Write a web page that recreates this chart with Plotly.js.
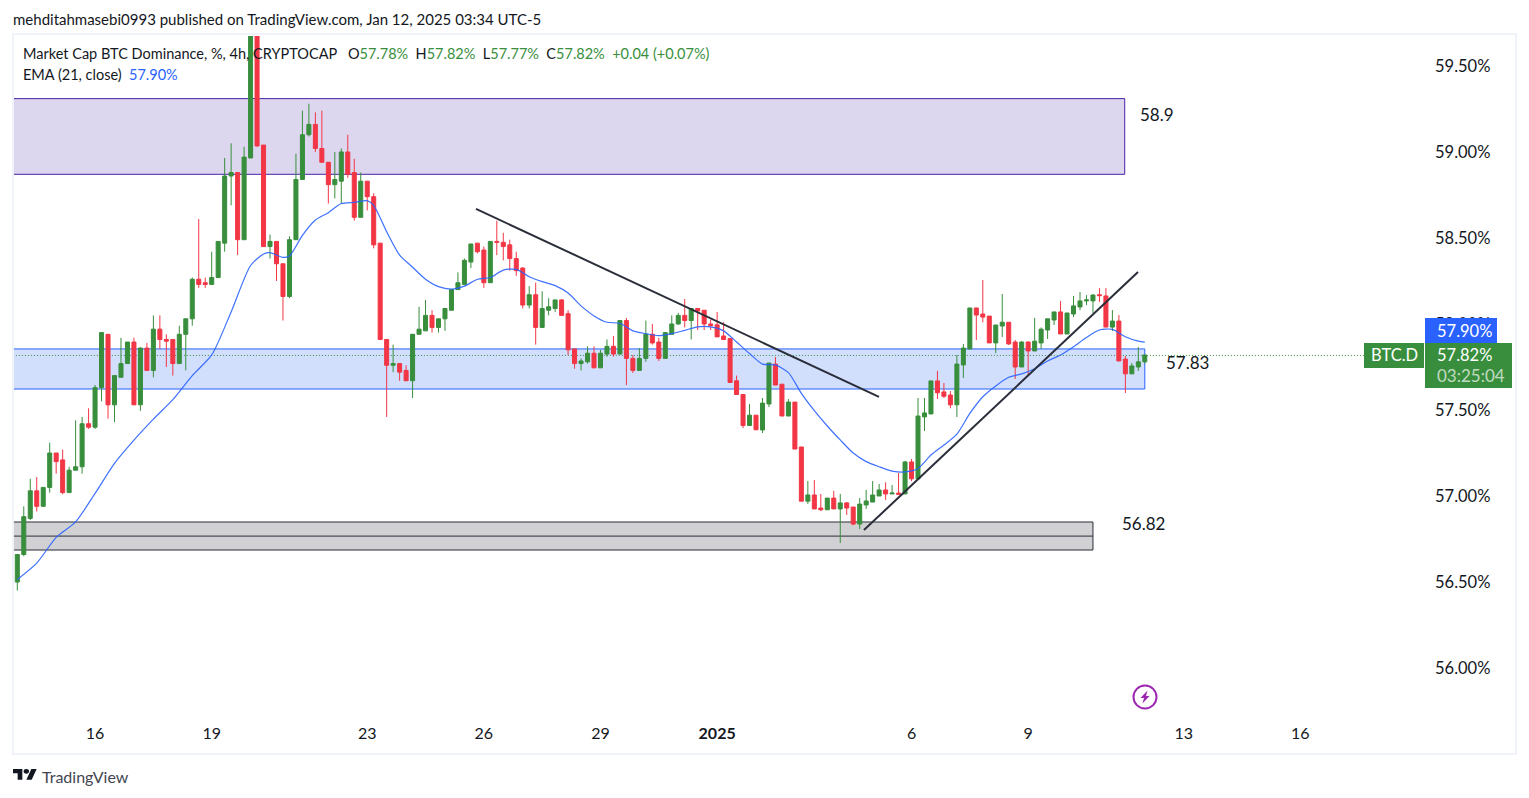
<!DOCTYPE html>
<html>
<head>
<meta charset="utf-8">
<script src="https://cdn.plot.ly/plotly-3.0.1.min.js"></script>
<style>
html,body{margin:0;padding:0;background:#fff;overflow:hidden}
#chart{width:1529px;height:798px}
</style>
</head>
<body>
<div id="chart"></div>
<script>
// 4h candles, index 0 = Dec 14 2024
var opens = [
56.50,56.66,56.87,57.03,56.94,57.05,57.25,57.21,57.02,57.15,
57.17,57.42,57.40,57.63,57.94,57.53,57.69,57.77,57.895,57.53,
57.86,57.73,57.97,57.91,57.91,57.77,57.94,58.03,58.26,58.24,
58.23,58.27,58.47,58.86,58.88,58.49,58.965,59.72,59.04,58.45,
58.48,58.35,58.16,58.49,58.84,59.10,59.16,59.02,58.94,58.81,
58.83,59.00,58.88,58.62,58.83,58.74,58.47,57.91,57.76,57.77,
57.73,57.67,57.94,57.96,58.05,57.98,58.03,58.08,58.20,58.23,
58.36,58.47,58.43,58.24,58.48,58.475,58.46,58.38,58.325,58.11,
58.17,57.98,58.08,58.09,58.14,58.06,57.855,57.77,57.78,57.83,
57.745,57.825,57.87,57.825,58.02,57.80,57.73,57.80,57.94,57.895,
57.80,57.94,58.00,58.05,58.02,58.09,58.08,58.00,57.995,57.93,
57.915,57.67,57.59,57.41,57.47,57.384,57.535,57.767,57.65,57.465,
57.546,57.285,56.97,57.006,56.93,56.92,56.988,56.925,56.96,56.936,
56.837,56.948,56.965,57.00,57.035,57.012,57.017,57.012,57.198,57.10,
57.46,57.477,57.669,57.605,57.587,57.53,57.762,57.855,58.093,58.058,
58.046,57.89,57.988,58.01,57.895,57.75,57.895,57.843,57.89,57.965,
58.023,58.07,57.942,58.058,58.099,58.134,58.134,58.17,58.163,57.982,
58.017,57.796,57.71,57.75,57.78];
var highs = [
56.66,56.94,57.10,57.11,57.05,57.31,57.25,57.27,57.17,57.44,
57.46,57.51,57.645,57.95,57.94,57.70,57.92,57.895,57.92,57.865,
57.89,58.05,58.05,57.94,57.91,57.99,58.03,58.27,58.61,58.27,
58.42,58.48,58.965,59.05,58.88,59.03,59.80,59.80,59.04,58.52,
58.48,58.35,58.51,58.99,59.24,59.28,59.23,59.24,58.94,59.00,
59.02,59.10,58.96,58.88,58.83,58.76,58.47,57.91,57.88,57.77,
57.76,57.94,58.10,58.14,58.08,58.03,58.09,58.20,58.30,58.38,
58.465,58.47,58.45,58.48,58.60,58.53,58.49,58.42,58.33,58.22,
58.24,58.19,58.15,58.14,58.145,58.08,57.855,57.80,57.87,57.87,
57.85,57.91,57.93,58.02,58.035,57.82,57.86,58.02,58.00,57.92,
57.95,58.05,58.064,58.145,58.09,58.09,58.08,58.025,58.07,58.01,
57.915,57.70,57.59,57.535,57.47,57.57,57.773,57.808,57.65,57.564,
57.546,57.285,57.087,57.093,57.012,56.988,57.03,57.012,56.965,56.936,
56.988,57.035,57.087,57.07,57.08,57.064,57.134,57.205,57.215,57.57,
57.57,57.669,57.727,57.657,57.61,57.82,57.884,58.093,58.093,58.256,
58.046,57.994,58.174,58.01,57.907,57.90,57.90,58.035,57.98,58.03,
58.07,58.134,58.064,58.163,58.186,58.168,58.174,58.209,58.209,58.081,
58.052,57.814,57.773,57.866,57.82];
var lows = [
56.45,56.65,56.86,56.91,56.94,57.02,57.13,57.01,57.02,57.15,
57.13,57.39,57.39,57.55,57.45,57.43,57.69,57.77,57.53,57.495,
57.73,57.69,57.855,57.75,57.70,57.77,57.73,57.99,58.21,58.21,
58.23,58.27,58.42,58.69,58.40,58.49,58.965,59.03,58.45,58.38,
58.25,58.02,58.15,58.49,58.84,59.09,59.00,58.94,58.70,58.73,
58.70,58.85,58.60,58.62,58.66,58.44,57.91,57.46,57.72,57.67,
57.67,57.57,57.94,57.96,57.95,57.95,57.96,58.08,58.20,58.23,
58.325,58.41,58.21,58.24,58.40,58.37,58.31,58.28,58.09,58.09,
57.88,57.98,58.05,58.07,58.05,57.82,57.74,57.73,57.77,57.745,
57.745,57.81,57.81,57.825,57.645,57.715,57.73,57.78,57.88,57.785,
57.80,57.94,57.995,57.98,57.91,57.965,57.965,57.965,57.925,57.91,
57.66,57.59,57.395,57.41,57.385,57.366,57.517,57.645,57.465,57.465,
57.273,56.97,56.954,56.925,56.913,56.92,56.925,56.727,56.89,56.83,
56.808,56.925,56.965,57.00,56.977,57.012,57.01,57.012,57.087,57.10,
57.378,57.477,57.564,57.57,57.51,57.459,57.686,57.855,57.907,58.01,
57.89,57.83,57.924,57.878,57.68,57.75,57.703,57.843,57.855,57.913,
57.994,57.942,57.942,58.04,58.08,58.11,58.064,58.128,57.982,57.959,
57.785,57.599,57.71,57.727,57.77];
var closes = [
56.66,56.88,57.03,56.94,57.05,57.25,57.20,57.02,57.15,57.17,
57.42,57.40,57.63,57.95,57.53,57.70,57.77,57.895,57.53,57.86,
57.73,57.97,57.91,57.90,57.77,57.94,58.03,58.26,58.23,58.23,
58.27,58.48,58.86,58.88,58.49,58.97,59.72,59.035,58.45,58.48,
58.35,58.16,58.49,58.84,59.10,59.16,59.02,58.94,58.81,58.84,
59.00,58.87,58.62,58.83,58.74,58.46,57.91,57.76,57.77,57.72,
57.67,57.94,57.97,58.05,57.98,58.03,58.09,58.20,58.24,58.37,
58.465,58.42,58.24,58.48,58.475,58.45,58.38,58.31,58.11,58.17,
57.98,58.09,58.10,58.14,58.05,57.85,57.77,57.785,57.83,57.745,
57.83,57.87,57.825,58.02,57.80,57.73,57.80,57.94,57.89,57.80,
57.95,58.00,58.05,58.02,58.09,58.075,58.00,57.99,57.925,57.91,
57.66,57.59,57.41,57.47,57.385,57.54,57.773,57.645,57.465,57.546,
57.273,56.97,57.006,56.925,56.92,56.988,56.925,56.96,56.93,56.837,
56.953,56.971,57.006,57.035,57.012,57.017,57.01,57.198,57.10,57.465,
57.483,57.669,57.60,57.58,57.53,57.767,57.86,58.093,58.052,58.04,
57.89,57.994,58.01,57.884,57.75,57.895,57.843,57.90,57.97,58.03,
58.07,57.942,58.064,58.105,58.134,58.14,58.168,58.165,57.982,58.017,
57.785,57.71,57.756,57.78,57.82];

// EMA(21) at these candle indexes
var emaIdx = [0,3,6,9,12,15,18,21,24,27,30,33,36,38,39,41,42,44,46,48,50,52,54,55,57,59,61,63,65,67,69,71,73,75,77,79,81,83,85,87,89,91,93,95,97,99,101,103,105,107,109,111,113,115,117,119,121,123,125,127,129,131,133,135,137,139,141,143,145,147,149,151,153,155,157,159,161,163,165,167,169,171,173,174];
var emaVals = [56.515,56.61,56.76,56.85,57.015,57.19,57.325,57.447,57.56,57.70,57.82,58.07,58.34,58.407,58.415,58.387,58.395,58.515,58.604,58.647,58.70,58.707,58.717,58.69,58.536,58.40,58.33,58.26,58.217,58.203,58.22,58.26,58.27,58.313,58.317,58.275,58.246,58.223,58.18,58.105,58.047,58.01,58.004,57.96,57.944,57.932,57.944,57.963,57.983,57.983,57.96,57.895,57.828,57.767,57.762,57.717,57.597,57.496,57.407,57.326,57.25,57.20,57.17,57.145,57.14,57.16,57.238,57.296,57.36,57.48,57.577,57.64,57.69,57.71,57.74,57.785,57.82,57.868,57.922,57.965,57.969,57.926,57.90,57.895];

var xTickVals = [12,30,54,72,90,108,138,156,180,198];
var xTickText = ['16','19','23','26','29','<b>2025</b>','6','9','13','16'];
var yTickVals = [56,56.5,57,57.5,58,58.5,59,59.5];
var yTickText = ['56.00%','56.50%','57.00%','57.50%','58.00%','58.50%','59.00%','59.50%'];

var GREEN = '#388e3c', RED = '#f23645', BLUE = '#2962ff', INK = '#131722';
var FONT = 'Lato, "Noto Sans", sans-serif';

// plot box in window pixels, used only for the furniture around the chart
var L = 14, R = 1420, T = 36, B = 720;
function px(x){ return (x - L) / (R - L); }
function py(y){ return (B - y) / (B - T); }
var xIdx = opens.map(function(d,i){ return i; });

var candles = {
  type: 'candlestick', x: xIdx, open: opens, high: highs, low: lows, close: closes,
  increasing: {line: {color: GREEN, width: 1}, fillcolor: GREEN},
  decreasing: {line: {color: RED, width: 1}, fillcolor: RED},
  hoverinfo: 'skip', showlegend: false
};
var ema = {
  type: 'scatter', mode: 'lines', x: emaIdx, y: emaVals,
  line: {color: BLUE, width: 1.2, shape: 'spline', smoothing: 0.7}, opacity: 0.9, hoverinfo: 'skip', showlegend: false
};

function zone(x1, y0, y1, fill, stroke){
  return {type:'rect', layer:'below', xref:'x', yref:'y', x0:-3, x1:x1, y0:y0, y1:y1,
    fillcolor:fill, line:{color:stroke, width:1}};
}
function paperRect(x0, y0, x1, y1, fill, stroke, w){
  return {type:'rect', xref:'paper', yref:'paper', x0:px(x0), x1:px(x1), y0:py(y0), y1:py(y1),
    fillcolor:fill, line:{color:stroke, width:w}};
}
var shapes = [
  zone(170.9, 58.87, 59.31, '#dcd6ee', '#4a22a8'),
  zone(174, 57.622, 57.855, '#d1dffd', BLUE),
  zone(166, 56.686, 56.849, '#d1d1d4', '#2a2e39'),
  {type:'line', layer:'below', xref:'x', yref:'y', x0:-3, x1:166, y0:56.767, y1:56.767, line:{color:'#2a2e39', width:1}},
  {type:'line', layer:'below', xref:'x', yref:'y', x0:-3, x1:207.8, y0:57.817, y1:57.817, line:{color:GREEN, width:1, dash:'1px,2px'}},
  {type:'line', xref:'x', yref:'y', x0:70.79, y0:58.669, x1:132.98, y1:57.576, line:{color:'#2a2e39', width:2}},
  {type:'line', xref:'x', yref:'y', x0:130.66, y0:56.802, x1:172.95, y1:58.302, line:{color:'#2a2e39', width:2}},
  paperRect(13, 34, 1516, 754, 'rgba(0,0,0,0)', '#f0f3fa', 2),
  paperRect(1425, 318, 1497, 343, BLUE, BLUE, 0),
  paperRect(1425, 343, 1512, 388, GREEN, GREEN, 0),
  paperRect(1364, 343, 1424, 368, GREEN, GREEN, 0)
];

function note(x, y, text, size, color, anchor){
  return {xref:'paper', yref:'paper', x:px(x), y:py(y), text:text, showarrow:false, borderpad:0, borderwidth:0,
    xanchor:anchor || 'left', yanchor:'middle', font:{family:FONT, size:size, color:color}};
}
function g(t){ return '<span style="color:'+GREEN+'">'+t+'</span>'; }
var annotations = [
  note(13, 19, 'mehditahmasebi0993 published on TradingView.com, Jan 12, 2025 03:34 UTC-5', 15, INK),
  note(23, 54, 'Market Cap BTC Dominance, %, 4h, CRYPTOCAP   O'+g('57.78%')+'  H'+g('57.82%')+'  L'+g('57.77%')+'  C'+g('57.82%')+'  '+g('+0.04 (+0.07%)'), 14.5, INK),
  note(23, 75, 'EMA (21, close)  <span style="color:'+BLUE+'">57.90%</span>', 14.5, INK),
  note(1157, 115, '58.9', 17, INK, 'center'),
  note(1187, 362, '57.83', 17, INK, 'center'),
  note(1143, 523, '56.82', 17, INK, 'center'),
  note(1394, 355.5, 'BTC.D', 16.5, '#fff', 'center'),
  note(1437, 330.5, '57.90%', 16.5, '#fff'),
  note(1437, 355.5, '57.82%', 16.5, '#fff'),
  note(1437, 375.5, '03:25:04', 17, 'rgba(255,255,255,0.7)'),
  note(42, 776, 'TradingView', 16, '#434651')
];

var logoSvg = '<svg xmlns="http://www.w3.org/2000/svg" viewBox="0 0 36 22"><path fill="#131722" d="M14 18H7V7H0V0h14v18zM28 18h-8l7.5-18h8L28 18z"/><circle fill="#131722" cx="20" cy="4" r="4"/></svg>';
var boltSvg = '<svg xmlns="http://www.w3.org/2000/svg" viewBox="0 0 26 26"><circle cx="13" cy="13" r="11.5" fill="#fff" stroke="#9c27b0" stroke-width="2"/><path fill="#9c27b0" d="M15.5 6.5L8.5 14h3.5l-1.5 5.5 7-7.5H14z"/></svg>';
function svgImage(svg, x, y, w, h){
  return {source:'data:image/svg+xml;utf8,'+encodeURIComponent(svg), xref:'paper', yref:'paper',
    x:px(x), y:py(y), sizex:w/(R-L), sizey:h/(B-T), sizing:'stretch', xanchor:'left', yanchor:'top', layer:'above'};
}

var layout = {
  width: 1529, height: 798,
  margin: {l:L, r:1529-R, t:T, b:798-B, pad:0},
  paper_bgcolor:'#fff', plot_bgcolor:'#fff',
  font: {family:FONT, color:INK, size:16},
  showlegend: false,
  boxgap: 0.38, boxgroupgap: 0,
  xaxis: {
    range:[-0.51, 216.47], rangeslider:{visible:false}, showgrid:false, zeroline:false, showline:false,
    tickmode:'array', tickvals:xTickVals, ticktext:xTickText, ticks:'', tickangle:0, ticklabelstandoff:2,
    tickfont:{family:FONT, size:16, color:INK}
  },
  yaxis: {
    side:'right', range:[55.698, 59.674], showgrid:false, zeroline:false, showline:false,
    tickmode:'array', tickvals:yTickVals, ticktext:yTickText, ticks:'', ticklabelstandoff:14,
    tickfont:{family:FONT, size:16.5, color:INK}
  },
  shapes: shapes,
  annotations: annotations,
  images: [svgImage(logoSvg, 13, 769, 24, 13), svgImage(boltSvg, 1132, 684, 26, 26)]
};

Plotly.newPlot('chart', [candles, ema], layout, {displayModeBar:false, staticPlot:true});
</script>
</body>
</html>
